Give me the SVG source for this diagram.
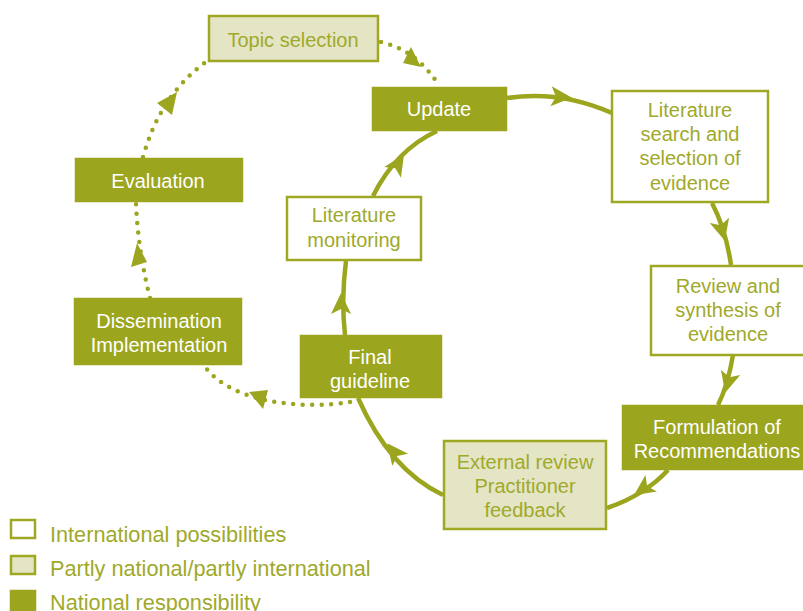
<svg xmlns="http://www.w3.org/2000/svg" width="803" height="611" viewBox="0 0 803 611">
<defs>
<style>
.t{font-family:"Liberation Sans",Arial,sans-serif;font-size:20px;text-anchor:middle}
.o{fill:#a0a92a}
.w{fill:#ffffff}
.bw{fill:#ffffff;stroke:#9fa822;stroke-width:2.5}
.bl{fill:#e4e5c5;stroke:#9fa822;stroke-width:2.5}
.bd{fill:#9ca51e;stroke:#9ca51e;stroke-width:2.5}
.s{fill:none;stroke:#9ca51e;stroke-width:4.5}
.d{fill:none;stroke:#9ca51e;stroke-width:4.5;stroke-linecap:round;stroke-dasharray:0 9.5}
.ah{fill:#9ca51e}
.lg{font-family:"Liberation Sans",Arial,sans-serif;font-size:21.7px;fill:#a0a92a}
</style>
<path id="ah" d="M11,0 L-10,-10 L-5,0 L-10,10 Z"/>
</defs>
<rect width="803" height="611" fill="#ffffff"/>

<g id="connectors">
<path class="s" d="M507,98 Q560,90 612,113"/>
<path class="s" d="M712,203 Q726,230 731,265"/>
<path class="s" d="M733,355 Q728,385 718,405"/>
<path class="s" d="M668,470 Q645,495 607,508"/>
<path class="s" d="M443,495 Q390,470 358,398"/>
<path class="s" d="M345,335 Q341,300 346,261"/>
<path class="s" d="M373,196 Q396,150 437,131"/>
<path class="d" d="M381,42 Q416,50 438,84"/>
<path class="d" d="M350,402 C300,410 232,402 206,368"/>
<path class="d" d="M150,298 Q138,250 136,204"/>
<path class="d" d="M143,157 Q160,95 207,61"/>
<use href="#ah" class="ah" transform="translate(561,97) rotate(4)"/>
<use href="#ah" class="ah" transform="translate(722,230) rotate(75)"/>
<use href="#ah" class="ah" transform="translate(728,382) rotate(105)"/>
<use href="#ah" class="ah" transform="translate(643,489) rotate(145)"/>
<use href="#ah" class="ah" transform="translate(394,452) rotate(232)"/>
<use href="#ah" class="ah" transform="translate(341,304) rotate(-90)"/>
<use href="#ah" class="ah" transform="translate(398,164) rotate(-57)"/>
<polygon class="ah" points="411,47 403,63 421,67"/>
<polygon class="ah" points="249,392 268,390 263,409"/>
<polygon class="ah" points="137,243 131,267 147,262"/>
<polygon class="ah" points="177,92 157,103 172,115"/>
</g>

<g id="topic">
<rect class="bl" x="209" y="16" width="169" height="45"/>
<text class="t o" x="293" y="47">Topic selection</text>
</g>
<g id="update">
<rect class="bd" x="373" y="88" width="133" height="42"/>
<text class="t w" x="439" y="116">Update</text>
</g>
<g id="litsearch">
<rect class="bw" x="612" y="91" width="156" height="111"/>
<text class="t o" x="690" y="117">Literature</text>
<text class="t o" x="690" y="141">search and</text>
<text class="t o" x="690" y="165">selection of</text>
<text class="t o" x="690" y="190">evidence</text>
</g>
<g id="review">
<rect class="bw" x="651" y="266" width="160" height="89"/>
<text class="t o" x="728" y="293">Review and</text>
<text class="t o" x="728" y="317">synthesis of</text>
<text class="t o" x="728" y="341">evidence</text>
</g>
<g id="formulation">
<rect class="bd" x="623" y="406" width="190" height="63"/>
<text class="t w" x="717" y="434">Formulation of</text>
<text class="t w" x="717" y="458">Recommendations</text>
</g>
<g id="external">
<rect class="bl" x="444" y="441" width="162" height="88"/>
<text class="t o" x="525" y="469">External review</text>
<text class="t o" x="525" y="493">Practitioner</text>
<text class="t o" x="525" y="517">feedback</text>
</g>
<g id="final">
<rect class="bd" x="301" y="336" width="140" height="61"/>
<text class="t w" x="370" y="364">Final</text>
<text class="t w" x="370" y="388">guideline</text>
</g>
<g id="monitoring">
<rect class="bw" x="287" y="197" width="134" height="63"/>
<text class="t o" x="354" y="222">Literature</text>
<text class="t o" x="354" y="247">monitoring</text>
</g>
<g id="evaluation">
<rect class="bd" x="76" y="159" width="166" height="42"/>
<text class="t w" x="158" y="188">Evaluation</text>
</g>
<g id="dissemination">
<rect class="bd" x="75" y="299" width="166" height="65"/>
<text class="t w" x="159" y="328">Dissemination</text>
<text class="t w" x="159" y="352">Implementation</text>
</g>

<g id="legend">
<rect class="bw" x="11" y="520" width="24" height="18"/>
<text class="lg" x="50" y="542">International possibilities</text>
<rect class="bl" x="11" y="556" width="24" height="18"/>
<text class="lg" x="50" y="576">Partly national/partly international</text>
<rect class="bd" x="11" y="591" width="24" height="20"/>
<text class="lg" x="50" y="610">National responsibility</text>
</g>
</svg>
